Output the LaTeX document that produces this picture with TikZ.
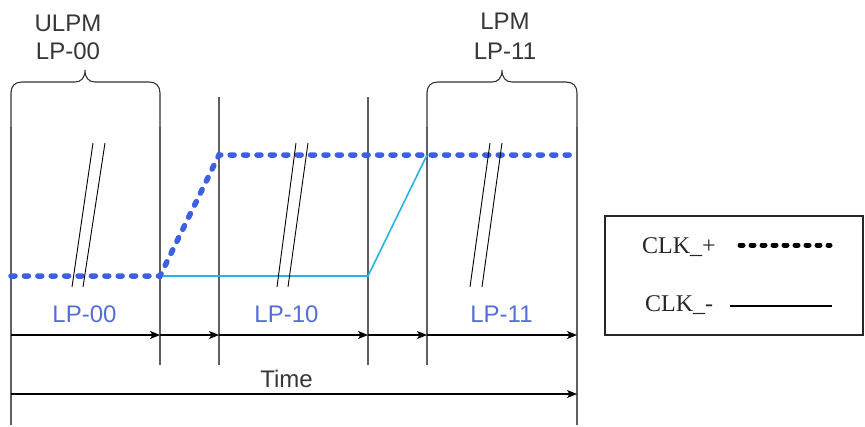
\documentclass[tikz,border=0pt]{standalone}
\usepackage{fontspec}
\setmainfont{Liberation Serif}
\setsansfont{Liberation Sans}
\usetikzlibrary{arrows.meta}
\definecolor{clkblue}{RGB}{60,95,228}
\definecolor{lblblue}{RGB}{85,110,215}
\definecolor{clkcyan}{RGB}{40,180,225}
\definecolor{vgray}{RGB}{95,95,95}
\definecolor{txtgray}{RGB}{55,55,55}
\begin{document}
\begin{tikzpicture}[x=1pt,y=-1pt,
  vline/.style={vgray, line width=1.1pt},
  brace/.style={black!80, line width=1.1pt},
  plusline/.style={clkblue, line width=5.5pt, line cap=round, dash pattern=on 4pt off 9.4pt},
  minusline/.style={clkcyan, line width=1.6pt},
  brk/.style={black, line width=0.9pt},
  tarrow/.style={black, line width=1.1pt, -{Stealth[length=10pt,width=8pt,inset=2.5pt]}},
  lbl/.style={font=\sffamily\fontsize{24}{26}\selectfont, text=lblblue, inner sep=0pt},
  hdr/.style={font=\sffamily\fontsize{24}{26}\selectfont, text=txtgray, inner sep=0pt},
  legtxt/.style={font=\rmfamily\fontsize{24}{26}\selectfont, text=black!85, inner sep=0pt, anchor=base west},
  legbox/.style={draw=black!85, line width=1.3pt}]
\useasboundingbox (0,0) rectangle (865,426);

% vertical reference lines
\coordinate (v0t) at (11,127);   \coordinate (v0b) at (11,425);
\coordinate (v1t) at (160,127);  \coordinate (v1b) at (160,365);
\coordinate (v2t) at (219,97);   \coordinate (v2b) at (219,365);
\coordinate (v3t) at (368,97);   \coordinate (v3b) at (368,365);
\coordinate (v4t) at (427,127);  \coordinate (v4b) at (427,365);
\coordinate (v5t) at (577,127);  \coordinate (v5b) at (577,425);
\foreach \i in {0,...,5} \draw[vline] (v\i t) -- (v\i b);

% braces
\draw[brace] (v0t) -- (11,93) .. controls (11,86) and (15,82) .. (22,82) -- (75,82)
  .. controls (81,82) and (85,78) .. (85,70)
  .. controls (85,78) and (89,82) .. (95,82) -- (149,82)
  .. controls (156,82) and (160,86) .. (160,93) -- (v1t);
\draw[brace] (v4t) -- (427,93) .. controls (427,86) and (431,82) .. (438,82) -- (492,82)
  .. controls (498,82) and (502,78) .. (502,70)
  .. controls (502,78) and (506,82) .. (512,82) -- (566,82)
  .. controls (573,82) and (577,86) .. (577,93) -- (v5t);

\node[hdr] (ulpm) at (68,23.5) {ULPM};
\node[hdr] (lp00h) at (68,51.5) {LP-00};
\node[hdr] (lpm) at (505,21.5) {LPM};
\node[hdr] (lp11h) at (505,51.5) {LP-11};

% signals
\coordinate (m0) at (160,276);
\coordinate (m1) at (368,276);
\coordinate (m2) at (427,155);
\draw[minusline] (m0) -- (m1) -- (m2);
\coordinate (p0) at (11,276);
\coordinate (p1) at (160,276);
\coordinate (p2) at (219,155);
\coordinate (p3) at (577,155);
\draw[plusline] (p0) -- (p1) -- (p2) -- (p3);

% break marks
\draw[brk] (93,143) -- (72,287);  \draw[brk] (105,143) -- (83,287);
\draw[brk] (296,143) -- (277,287); \draw[brk] (308,143) -- (288,287);
\draw[brk] (490,143) -- (470,287); \draw[brk] (502,143) -- (482,287);

% state labels
\node[lbl] (s00) at (84.5,314.5) {LP-00};
\node[lbl] (s10) at (286.5,314.5) {LP-10};
\node[lbl] (s11) at (501.5,314.5) {LP-11};

% time arrows
\coordinate (a0) at (11,335);  \coordinate (a1) at (160,335);
\coordinate (a2) at (219,335); \coordinate (a3) at (368,335);
\coordinate (a4) at (427,335); \coordinate (a5) at (577,335);
\draw[tarrow] (a0) -- (a1);
\draw[tarrow] (a1) -- (a2);
\draw[tarrow] (a2) -- (a3);
\draw[tarrow] (a3) -- (a4);
\draw[tarrow] (a4) -- (a5);

\node[hdr] (time) at (286.5,378.5) {Time};
\coordinate (ts) at (11,394);
\coordinate (te) at (577,394);
\draw[tarrow] (ts) -- (te);

% legend
\node[legbox, minimum width=258pt, minimum height=119pt, inner sep=0pt] (legend) at (734,275.5) {};
\node[legtxt] (clkp) at (642,253) {CLK\_+};
\node[legtxt] (clkm) at (645,311) {CLK\_-};
\coordinate (lp0) at (740,245);
\coordinate (lp1) at (830,245);
\draw[black, line width=5pt, line cap=round, dash pattern=on 3pt off 8pt] (lp0) -- (lp1);
\coordinate (lm0) at (730,306);
\coordinate (lm1) at (832,306);
\draw[black, line width=1.2pt] (lm0) -- (lm1);
\end{tikzpicture}
\end{document}
